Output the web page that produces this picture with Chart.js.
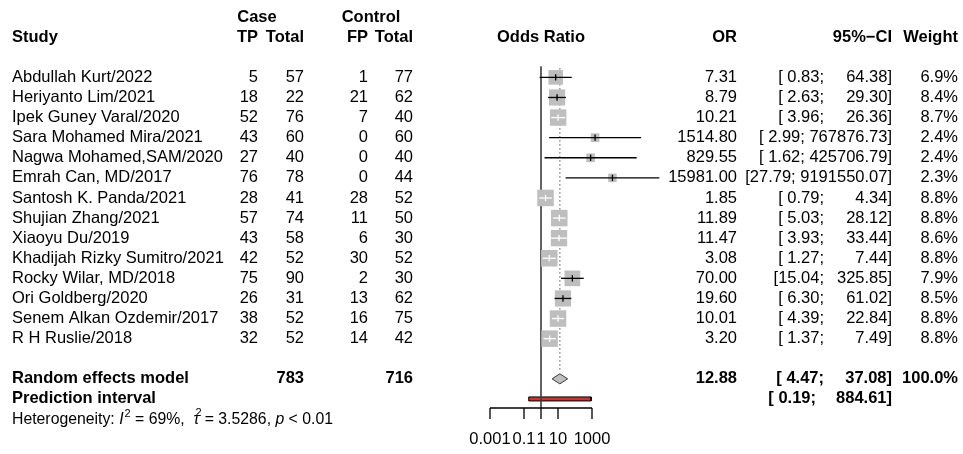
<!DOCTYPE html>
<html lang="en">
<head>
  <meta charset="UTF-8">
  <title>Forest plot - Odds Ratio</title>
  <style>
    body { margin: 0; background: #fff; }
    #wrap { width: 963px; height: 454px; }
  </style>
  <script src="https://cdn.jsdelivr.net/npm/chart.js@4.4.4/dist/chart.umd.js"></script>
</head>
<body>
<div id="wrap"><canvas id="forest" width="963" height="454"></canvas></div>
<script>
  // study data
  const studies = ['Abdullah Kurt/2022', 'Heriyanto Lim/2021', 'Ipek Guney Varal/2020', 'Sara Mohamed Mira/2021',
    'Nagwa Mohamed,SAM/2020', 'Emrah Can, MD/2017', 'Santosh K. Panda/2021', 'Shujian Zhang/2021',
    'Xiaoyu Du/2019', 'Khadijah Rizky Sumitro/2021', 'Rocky Wilar, MD/2018', 'Ori Goldberg/2020',
    'Senem Alkan Ozdemir/2017', 'R H Ruslie/2018'];
  const caseTP = [5, 18, 52, 43, 27, 76, 28, 57, 43, 42, 75, 26, 38, 32];
  const caseTotal = [57, 22, 76, 60, 40, 78, 41, 74, 58, 52, 90, 31, 52, 52];
  const ctrlFP = [1, 21, 7, 0, 0, 0, 28, 11, 6, 30, 2, 13, 16, 14];
  const ctrlTotal = [77, 62, 40, 60, 40, 44, 52, 50, 30, 52, 30, 62, 75, 42];
  const orValues = [7.31, 8.79, 10.21, 1514.80, 829.55, 15981.00, 1.85, 11.89, 11.47, 3.08, 70.00, 19.60, 10.01, 3.20];
  const ciLower = [0.83, 2.63, 3.96, 2.99, 1.62, 27.79, 0.79, 5.03, 3.93, 1.27, 15.04, 6.30, 4.39, 1.37];
  const ciUpper = [64.38, 29.30, 26.36, 767876.73, 425706.79, 9191550.07, 4.34, 28.12, 33.44, 7.44, 325.85, 61.02, 22.84, 7.49];
  const weights = [6.9, 8.4, 8.7, 2.4, 2.4, 2.3, 8.8, 8.8, 8.6, 8.8, 7.9, 8.5, 8.8, 8.8];

  // pooled results
  const pooledOR = 12.88;
  const pooledCI = [4.47, 37.08];
  const pooledTotals = [783, 716];
  const predInterval = [0.19, 884.61];
  const axisTicks = [0.001, 0.1, 1, 10, 1000];

  const FONT = "'Liberation Sans', Arial, Helvetica, sans-serif";
  const FS = 16.5;
  const reRow = studies.length + 1;
  const piRow = studies.length + 2;

  // column anchors (pixels)
  const col = { study: 12, tp: 258, caseTot: 304, fp: 368, ctrlTot: 413, caseHead: 257, ctrlHead: 371,
    plot: 541, or: 737, ciLo: 824, ciHi: 892, weight: 958 };

  function boxSide(w) {
    return 16.5 * Math.sqrt(w / 8.8);
  }

  function ciInside(chart, i) {
    const xs = chart.scales.x;
    if (i === undefined || !xs) return false;
    const w = xs.getPixelForValue(ciUpper[i]) - xs.getPixelForValue(ciLower[i]);
    return w < boxSide(weights[i]);
  }

  const datasets = [];

  // confidence interval lines
  studies.forEach((s, i) => {
    datasets.push({
      data: [{ x: ciLower[i], y: i }, { x: ciUpper[i], y: i }],
      showLine: true,
      pointRadius: 0,
      borderWidth: 1.3,
      borderColor: (ctx) => ciInside(ctx.chart, i) ? '#ffffff' : '#000000',
      order: 0
    });
  });

  // estimate ticks
  datasets.push({
    data: orValues.map((v, i) => ({ x: v, y: i })),
    pointStyle: 'line',
    rotation: 90,
    pointRadius: 3.2,
    pointBorderWidth: 1.3,
    pointBorderColor: (ctx) => ciInside(ctx.chart, ctx.dataIndex) ? '#ffffff' : '#000000',
    order: 0
  });

  // weight squares
  datasets.push({
    data: orValues.map((v, i) => ({ x: v, y: i })),
    pointStyle: 'rect',
    pointRadius: weights.map(w => boxSide(w) / Math.SQRT2),
    pointBackgroundColor: '#bebebe',
    pointBorderWidth: 0,
    order: 1
  });

  // pooled diamond
  datasets.push({
    data: [
      { x: pooledCI[0], y: reRow }, { x: pooledOR, y: reRow - 0.25 },
      { x: pooledCI[1], y: reRow }, { x: pooledOR, y: reRow + 0.25 },
      { x: pooledCI[0], y: reRow }
    ],
    showLine: true,
    fill: 'shape',
    backgroundColor: '#bebebe',
    borderColor: '#3a3a3a',
    borderWidth: 1,
    pointRadius: 0,
    order: 1
  });

  // no-effect line
  datasets.push({
    data: [{ x: 1, y: -0.55 }, { x: 1, y: piRow + 0.45 }],
    showLine: true,
    borderColor: '#3c3c3c',
    borderWidth: 1.6,
    pointRadius: 0,
    order: 2
  });

  // pooled estimate dotted line
  datasets.push({
    data: [{ x: pooledOR, y: -0.45 }, { x: pooledOR, y: reRow - 0.45 }],
    showLine: true,
    borderColor: '#555555',
    borderWidth: 1.2,
    borderDash: [1.2, 2.8],
    pointRadius: 0,
    order: 2
  });

  // prediction interval bar
  datasets.push({
    data: [
      { x: predInterval[0], y: piRow - 0.1 }, { x: predInterval[1], y: piRow - 0.1 },
      { x: predInterval[1], y: piRow + 0.1 }, { x: predInterval[0], y: piRow + 0.1 },
      { x: predInterval[0], y: piRow - 0.1 }
    ],
    showLine: true,
    fill: 'shape',
    backgroundColor: '#bf3a30',
    borderColor: '#000000',
    borderWidth: 1,
    pointRadius: 0,
    order: 3
  });

  function fmt(v) {
    return v.toFixed(2);
  }

  function text(ctx, str, x, y, align, bold, italic, size) {
    ctx.font = (italic ? 'italic ' : '') + (bold ? 'bold ' : '') + (size || FS) + 'px ' + FONT;
    ctx.textAlign = align;
    ctx.fillText(str, x, y);
    return ctx.measureText(str).width;
  }

  function drawCI(ctx, lo, hi, y, bold) {
    const loStr = '[' + (lo < 10 ? ' ' : '') + fmt(lo) + ';';
    const hiStr = fmt(hi) + ']';
    ctx.font = (bold ? 'bold ' : '') + FS + 'px ' + FONT;
    const wHi = ctx.measureText(hiStr).width;
    if (col.ciHi - wHi < col.ciLo + 4) {
      text(ctx, loStr + ' ' + hiStr, col.ciHi, y, 'right', bold);
    } else {
      text(ctx, loStr, col.ciLo, y, 'right', bold);
      text(ctx, hiStr, col.ciHi, y, 'right', bold);
    }
  }

  const tablePlugin = {
    id: 'forestTable',
    afterDraw(chart) {
      const ctx = chart.ctx;
      const ys = chart.scales.y;
      const xs = chart.scales.x;
      ctx.save();
      ctx.fillStyle = '#000';
      ctx.textBaseline = 'middle';

      // headers
      let y = ys.getPixelForValue(-3);
      text(ctx, 'Case', col.caseHead, y, 'center', true);
      text(ctx, 'Control', col.ctrlHead, y, 'center', true);
      y = ys.getPixelForValue(-2);
      text(ctx, 'Study', col.study, y, 'left', true);
      text(ctx, 'TP', col.tp, y, 'right', true);
      text(ctx, 'Total', col.caseTot, y, 'right', true);
      text(ctx, 'FP', col.fp, y, 'right', true);
      text(ctx, 'Total', col.ctrlTot, y, 'right', true);
      text(ctx, 'Odds Ratio', col.plot, y, 'center', true);
      text(ctx, 'OR', col.or, y, 'right', true);
      text(ctx, '95%\u2212CI', col.ciHi, y, 'right', true);
      text(ctx, 'Weight', col.weight, y, 'right', true);

      // study rows
      studies.forEach((s, i) => {
        const yy = ys.getPixelForValue(i);
        text(ctx, s, col.study, yy, 'left');
        text(ctx, String(caseTP[i]), col.tp, yy, 'right');
        text(ctx, String(caseTotal[i]), col.caseTot, yy, 'right');
        text(ctx, String(ctrlFP[i]), col.fp, yy, 'right');
        text(ctx, String(ctrlTotal[i]), col.ctrlTot, yy, 'right');
        text(ctx, fmt(orValues[i]), col.or, yy, 'right');
        drawCI(ctx, ciLower[i], ciUpper[i], yy, false);
        text(ctx, weights[i].toFixed(1) + '%', col.weight, yy, 'right');
      });

      // pooled rows
      y = ys.getPixelForValue(reRow);
      text(ctx, 'Random effects model', col.study, y, 'left', true);
      text(ctx, String(pooledTotals[0]), col.caseTot, y, 'right', true);
      text(ctx, String(pooledTotals[1]), col.ctrlTot, y, 'right', true);
      text(ctx, fmt(pooledOR), col.or, y, 'right', true);
      drawCI(ctx, pooledCI[0], pooledCI[1], y, true);
      text(ctx, '100.0%', col.weight, y, 'right', true);

      y = ys.getPixelForValue(piRow);
      text(ctx, 'Prediction interval', col.study, y, 'left', true);
      text(ctx, '[ ' + fmt(predInterval[0]) + ';', col.ciLo - 8, y, 'right', true);
      text(ctx, fmt(predInterval[1]) + ']', col.ciHi, y, 'right', true);

      // heterogeneity line
      y = ys.getPixelForValue(piRow + 1.03);
      let x = col.study;
      const hs = 15.8;
      const small = 11;
      x += text(ctx, 'Heterogeneity: ', x, y, 'left', false, false, hs);
      x += text(ctx, 'I', x, y, 'left', false, true, hs);
      x += text(ctx, '2', x + 1, y - 6, 'left', false, false, small) + 1;
      x += text(ctx, ' = 69%,  ', x, y, 'left', false, false, hs);
      const tw = text(ctx, '\u03c4', x, y, 'left', false, true, hs);
      text(ctx, '2', x + 2, y - 7, 'left', false, false, small);
      x += tw + 1;
      x += text(ctx, ' = 3.5286, ', x, y, 'left', false, false, hs);
      x += text(ctx, 'p', x, y, 'left', false, true, hs);
      text(ctx, ' < 0.01', x, y, 'left', false, false, hs);

      // x axis
      const axisY = ys.getPixelForValue(piRow + 0.45);
      const x0 = xs.getPixelForValue(axisTicks[0]);
      const x1 = xs.getPixelForValue(axisTicks[axisTicks.length - 1]);
      ctx.strokeStyle = '#000';
      ctx.lineWidth = 1.3;
      ctx.beginPath();
      ctx.moveTo(x0, axisY);
      ctx.lineTo(x1, axisY);
      axisTicks.forEach(t => {
        const tx = xs.getPixelForValue(t);
        ctx.moveTo(tx, axisY);
        ctx.lineTo(tx, axisY + 11);
      });
      ctx.stroke();
      axisTicks.forEach(t => {
        text(ctx, String(t), xs.getPixelForValue(t), axisY + 31, 'center');
      });
      ctx.restore();
    }
  };

  new Chart('forest', {
    type: 'scatter',
    data: { datasets: datasets },
    options: {
      responsive: false,
      animation: false,
      layout: { autoPadding: false, padding: { left: 473, right: 303, top: 0, bottom: 0 } },
      elements: { line: { tension: 0 } },
      scales: {
        x: { type: 'logarithmic', min: 1e-4, max: 1e7, display: false },
        y: { type: 'linear', min: -3.85, max: 18.74, reverse: true, display: false }
      },
      plugins: {
        legend: { display: false },
        tooltip: { enabled: false }
      }
    },
    plugins: [tablePlugin]
  });
</script>
</body>
</html>
